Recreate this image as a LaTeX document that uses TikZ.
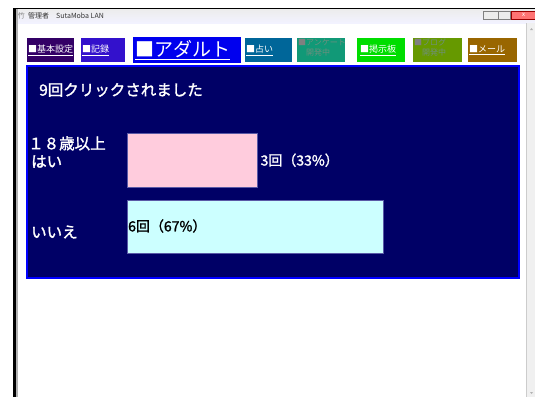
\documentclass[tikz,border=0pt]{standalone}
\usepackage{fontspec}
\setmainfont{Noto Sans CJK JP}
\newfontfamily\jpbold{Noto Sans CJK JP}[FakeBold=1.6]
\usepackage{tikz}
\usetikzlibrary{positioning}

\definecolor{navy}{HTML}{000066}
\definecolor{frameblue}{HTML}{0000FF}
\definecolor{tabkihon}{HTML}{330066}
\definecolor{tabkiroku}{HTML}{3311CC}
\definecolor{tabadult}{HTML}{0000EE}
\definecolor{taburanai}{HTML}{006699}
\definecolor{tabenq}{HTML}{119977}
\definecolor{tabbbs}{HTML}{00DD00}
\definecolor{tabblog}{HTML}{669900}
\definecolor{tabmail}{HTML}{996600}
\definecolor{barpink}{HTML}{FFCCDD}
\definecolor{barcyan}{HTML}{CCFFFF}
\definecolor{offtext}{HTML}{6F8F7F}

\tikzset{
  tab/.style={draw=none, anchor=north west, minimum height=24pt, inner sep=0pt},
  tabtext/.style={text=white, inner sep=1pt, font=\fontsize{9}{10}\selectfont},
  offtext/.style={text=offtext, inner sep=0pt, align=left, font=\fontsize{8}{10}\selectfont},
  bar/.style={draw=gray!70!blue, anchor=north west, inner sep=0pt},
  bigtext/.style={text=white, inner sep=0pt, anchor=west, font=\jpbold\fontsize{15.5}{16}\selectfont},
  count/.style={inner sep=0pt, anchor=west, font=\jpbold\fontsize{14}{16}\selectfont}
}

\begin{document}
\begin{tikzpicture}[x=1pt,y=-1pt]
  \useasboundingbox (0,0) rectangle (535,397);
  \fill[white] (0,0) rectangle (535,397);

  % window frame and title bar
  \shade[top color=gray!15, bottom color=blue!5] (13,9) rectangle (535,23);
  \draw[black, line width=1.2pt] (13,8.5) -- (535,8.5);
  \fill[black] (13,9) rectangle (15.5,397);
  \fill[gray!60] (15.5,9) rectangle (18,397);
  \node[inner sep=0pt, anchor=west, font=\fontsize{7}{8}\selectfont, text=gray!40!black]
    (titel) at (28,16) {管理者\quad SutaMoba LAN};
  \node[inner sep=0pt, left=3pt of titel.west, font=\fontsize{7}{8}\selectfont, text=gray] (ikon) {\char"7AF9};
  % window buttons
  \node[draw=gray, fill=gray!15, anchor=north west, minimum width=15pt, minimum height=8pt, inner sep=0pt] (minbtn) at (483,11) {};
  \node[draw=gray, fill=gray!15, right=0pt of minbtn, minimum width=12pt, minimum height=8pt, inner sep=0pt] (maxbtn) {};
  \node[draw=red!60!black, fill=red!55, right=0pt of maxbtn, minimum width=25pt, minimum height=8pt, inner sep=0pt,
    text=white, font=\fontsize{6}{6}\selectfont] (closebtn) {x};
  % scrollbar
  \fill[gray!12] (526,23) rectangle (535,397);
  \draw[gray!40] (526,23) -- (526,397);
  \fill[gray!60] (530,30) -- (533,30) -- (531.5,28) -- cycle;
  \fill[gray!60] (530,392) -- (533,392) -- (531.5,394) -- cycle;

  % tabs
  \node[tab, fill=tabkihon, minimum width=47pt] (kihon) at (27,38) {};
  \node[tabtext, right=0pt of kihon.west] {\underline{■基本設定}};
  \node[tab, fill=tabkiroku, minimum width=44pt] (kiroku) at (81,38) {};
  \node[tabtext, right=0pt of kiroku.west] {\underline{■記録}};
  \node[tab, fill=tabadult, minimum width=108pt, minimum height=26pt] (adult) at (133,36.5) {};
  \node[tabtext, right=1pt of adult.west, font=\fontsize{19}{20}\selectfont] {\underline{■アダルト}};
  \node[tab, fill=taburanai, minimum width=47pt] (uranai) at (245,38) {};
  \node[tabtext, right=0pt of uranai.west] {\underline{■占い}};
  \node[tab, fill=tabenq, minimum width=48pt] (enq) at (297,38) {};
  \node[offtext, anchor=north west] at (298,38.5) {\textcolor{gray}{■}アンケート\\\hspace*{8pt}開発中};
  \node[tab, fill=tabbbs, minimum width=48pt] (bbs) at (357,38) {};
  \node[tabtext, right=2pt of bbs.west] {\underline{■掲示板}};
  \node[tab, fill=tabblog, minimum width=49pt] (blog) at (413,38) {};
  \node[offtext, anchor=north west] at (414,38.5) {\textcolor{gray}{■}ブログ\\\hspace*{8pt}開発中};
  \node[tab, fill=tabmail, minimum width=49pt] (mail) at (468,38) {};
  \node[tabtext, right=0pt of mail.west] {\underline{■メール}};

  % result panel
  \node[draw=frameblue, line width=2pt, fill=navy, anchor=north west, minimum width=492pt, minimum height=212pt,
    inner sep=0pt] (panel) at (26,65) {};
  \node[bigtext] (total) at (39,90) {9回クリックされました};

  % bars
  \node[bar, fill=barpink, minimum width=130pt, minimum height=54pt] (yesbar) at (127,133) {};
  \node[bar, fill=barcyan, minimum width=256pt, minimum height=53pt] (nobar) at (127,200) {};
  \node[bigtext, anchor=north west, align=left, font=\jpbold\fontsize{15.5}{18}\selectfont]
    (yeslabel) at (31,136) {\hspace*{-3pt}１８歳以上\\はい};
  \node[bigtext] (nolabel) at (31,232) {いいえ};
  \node[count, text=white, right=3pt of yesbar] (yescount) {3回（33\%）};
  \node[count, text=black] (nocount) at (128,226) {6回（67\%）};
\end{tikzpicture}
\end{document}
